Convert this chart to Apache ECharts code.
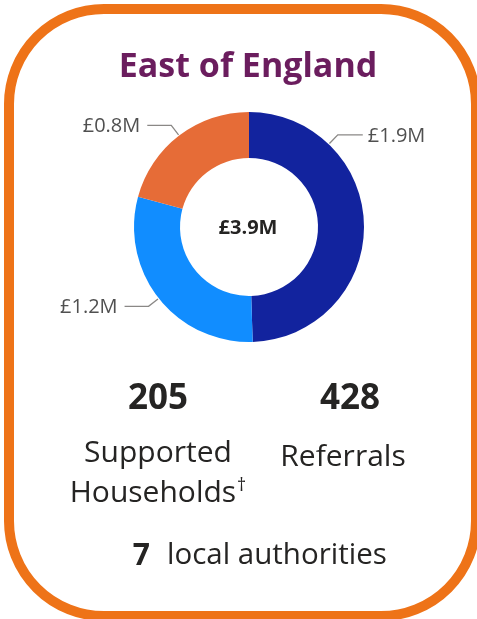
<!DOCTYPE html>
<html><head><meta charset="utf-8">
<script src="https://cdn.jsdelivr.net/npm/echarts@6/dist/echarts.min.js"></script>
<style>html,body{margin:0;padding:0;background:#fff}#c{width:477px;height:619px}</style>
</head><body><div id="c"></div>
<script>
var categories = ['Segment A', 'Segment B', 'Segment C'];
var values = [1.93, 1.16, 0.81];
var title = 'East of England';
var households = 205;
var referrals = 428;
var authorities = 7;

var colors = ['#12239E', '#118DFF', '#E66C37'];
var CX = 249, CY = 227, R = 115, RI = 69;
var FONT = '"Open Sans", "Segoe UI", sans-serif';

function money(v) { return '£' + v.toFixed(1) + 'M'; }
var total = values.reduce(function (a, b) { return a + b; }, 0);
var starts = [], acc = 0;
values.forEach(function (v) { starts.push(acc); acc += v; });

var chart = echarts.init(document.getElementById('c'));
chart.setOption({
  animation: false,
  graphic: [
    { type: 'rect', shape: { x: 9, y: 9, width: 467, height: 607, r: 95 },
      style: { fill: '#fff', stroke: '#EE7318', lineWidth: 10 }, z: -1 },
    { type: 'text', x: 248, y: 67, style: { text: title, font: 'bold 34px ' + FONT, fill: '#6B1D5E', align: 'center', verticalAlign: 'middle' } },
    { type: 'text', x: 248, y: 228, style: { text: money(total), font: 'bold 20px ' + FONT, fill: '#252423', align: 'center', verticalAlign: 'middle' } },
    { type: 'text', x: 158, y: 399, style: { text: String(households), font: 'bold 35px ' + FONT, fill: '#252423', align: 'center', verticalAlign: 'middle' } },
    { type: 'text', x: 350, y: 399, style: { text: String(referrals), font: 'bold 35px ' + FONT, fill: '#252423', align: 'center', verticalAlign: 'middle' } },
    { type: 'text', x: 158, y: 453, style: { text: 'Supported', font: '30px ' + FONT, fill: '#252423', align: 'center', verticalAlign: 'middle' } },
    { type: 'text', x: 158, y: 493, style: {
        text: '{m|Households}{s|\u2020}', align: 'center', verticalAlign: 'middle',
        rich: { m: { font: '30px ' + FONT, fill: '#252423' }, s: { font: '18px ' + FONT, fill: '#252423', verticalAlign: 'top', padding: [0, 0, 14, 1] } } } },
    { type: 'text', x: 343, y: 457, style: { text: 'Referrals', font: '30px ' + FONT, fill: '#252423', align: 'center', verticalAlign: 'middle' } },
    { type: 'text', x: 150, y: 556, style: { text: String(authorities), font: 'bold 30px ' + FONT, fill: '#252423', align: 'right', verticalAlign: 'middle' } },
    { type: 'text', x: 167, y: 556, style: { text: 'local authorities', font: '29.5px ' + FONT, fill: '#252423', align: 'left', verticalAlign: 'middle' } }
  ],
  series: [{
    type: 'pie',
    center: [CX, CY],
    radius: [RI, R],
    startAngle: 90,
    clockwise: true,
    avoidLabelOverlap: false,
    data: categories.map(function (c, i) {
      return { name: c, value: values[i], itemStyle: { color: colors[i] } };
    }),
    label: {
      show: true,
      formatter: function (p) { return money(p.value); },
      fontFamily: FONT, fontSize: 20, color: '#505050'
    },
    labelLine: { show: true, lineStyle: { color: '#8A8886', width: 1.3 } },
    labelLayout: function (p) {
      var i = p.dataIndex;
      var frac = (starts[i] + values[i] / 2) / total;
      if (i === 0) frac = 0.122;
      var a = frac * Math.PI * 2;
      var sx = Math.sin(a), sy = -Math.cos(a);
      var p0 = [CX + (R + 1) * sx, CY + (R + 1) * sy];
      var p1 = [CX + (R + 13) * sx, CY + (R + 13) * sy];
      var right = sx >= 0;
      var p2 = [p1[0] + (right ? 25 : -24), p1[1]];
      return {
        x: p2[0] + (right ? 5 : -7), y: p2[1] + 1,
        align: right ? 'left' : 'right', verticalAlign: 'middle',
        labelLinePoints: [p0, p1, p2]
      };
    }
  }]
});
</script></body></html>
